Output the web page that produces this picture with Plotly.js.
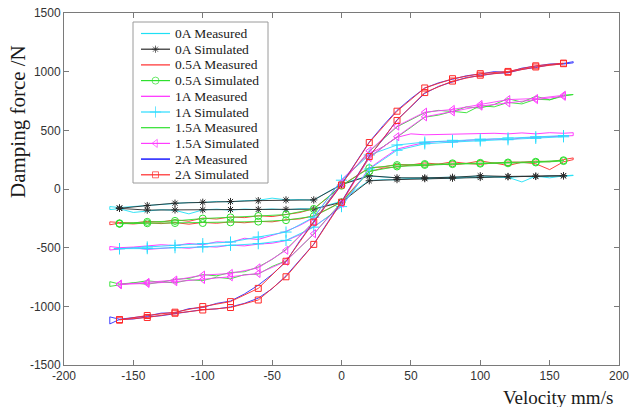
<!DOCTYPE html>
<html><head><meta charset="utf-8">
<script src="https://cdn.plot.ly/plotly-3.0.1.min.js"></script>
<style>html,body{margin:0;padding:0;background:#fff}#chart{width:632px;height:407px}</style>
</head><body><div id="chart"></div>
<script>
// ---------------- data ----------------
const simVelocity = [-160,-140,-120,-100,-80,-60,-40,-20,0,20,40,60,80,100,120,140,160];
const measVelocity = [-167,-160,-150,-140,-130,-120,-110,-100,-90,-80,-70,-60,-50,-40,-30,-20,-10,0,10,20,30,40,50,60,70,80,90,100,110,120,130,140,150,160,167];

// simulated branches (lower = increasing velocity, upper = decreasing velocity)
const sim0A_lower  = [-165,-180,-178,-177,-175,-174,-174,-172,-113,70,80,88,92,98,104,107,112];
const sim0A_upper  = [-161,-141,-121,-113,-107,-99,-93,-93,37,113,95,95,100,113,107,110,113];
const sim05A_lower = [-296,-292,-290,-290,-284,-278,-266,-232,-113,150,192,205,212,216,219,226,238];
const sim05A_upper = [-292,-280,-272,-252,-242,-230,-218,-170,28,178,204,213,219,223,226,232,245];
const sim1A_lower  = [-508,-508,-500,-494,-480,-466,-438,-325,-150,170,330,385,400,410,420,432,445];
const sim1A_upper  = [-508,-494,-480,-466,-452,-409,-367,-240,75,290,375,400,415,425,435,445,455];
const sim15A_lower = [-813,-805,-790,-771,-748,-720,-616,-381,-120,268,446,615,658,706,734,762,790];
const sim15A_upper = [-813,-796,-776,-734,-720,-672,-522,-282,50,325,536,655,678,720,762,771,799];
const sim2A_lower  = [-1115,-1095,-1059,-1031,-1010,-946,-748,-472,-113,277,584,822,920,970,995,1040,1068];
const sim2A_upper  = [-1115,-1078,-1050,-1002,-960,-847,-616,-282,34,396,663,861,940,983,1002,1050,1073];

// measured branches
const meas0A_lower  = [-175,-168,-200,-185,-176,-182,-212,-178,-172,-180,-171,-176,-170,-178,-168,-170,-140,-105,-10,72,80,78,90,86,92,88,99,95,103,98,108,102,112,108,115];
const meas0A_upper  = [-150,-158,-148,-140,-128,-124,-115,-116,-106,-110,-100,-96,-78,-92,-90,-95,-25,40,80,110,100,96,92,98,96,100,104,112,108,100,60,110,95,112,118];
const meas05A_lower = [-305,-290,-298,-288,-295,-286,-300,-285,-292,-280,-288,-276,-280,-262,-255,-228,-172,-108,25,148,178,188,205,198,212,205,218,210,222,200,228,215,165,232,250];
const meas05A_upper = [-280,-285,-290,-276,-282,-262,-275,-248,-256,-238,-244,-228,-235,-215,-200,-168,-75,30,105,182,188,210,205,222,212,232,218,240,220,230,228,238,232,250,265];
const meas1A_lower  = [-520,-512,-500,-515,-505,-498,-505,-490,-495,-478,-485,-470,-462,-440,-390,-320,-240,-145,15,175,260,340,370,395,405,400,415,418,425,420,435,440,445,450,455];
const meas1A_upper  = [-490,-500,-495,-488,-475,-482,-465,-475,-450,-455,-420,-430,-395,-360,-310,-245,-85,80,190,300,360,440,470,462,468,465,470,472,475,470,478,470,480,475,480];
const meas15A_lower = [-830,-815,-800,-812,-792,-800,-775,-780,-752,-765,-730,-725,-660,-612,-495,-385,-245,-115,80,265,360,440,525,612,630,662,650,710,700,738,725,765,760,792,800];
const meas15A_upper = [-790,-810,-800,-782,-795,-770,-762,-730,-740,-712,-705,-665,-600,-515,-400,-280,-110,55,185,320,425,530,590,650,670,660,700,690,720,770,740,790,760,800,805];
const meas2A_lower  = [-1150,-1112,-1108,-1090,-1080,-1062,-1048,-1028,-1022,-1005,-975,-930,-850,-740,-605,-470,-285,-108,88,280,425,590,700,815,875,915,950,965,985,990,1020,1035,1058,1065,1075];
const meas2A_upper  = [-1090,-1110,-1095,-1082,-1058,-1055,-1020,-1010,-975,-955,-895,-820,-728,-620,-440,-275,-120,40,220,400,540,670,770,860,905,935,965,980,1000,995,1030,1045,1065,1070,1085];

const seriesNames = ['0A Measured','0A Simulated','0.5A Measured','0.5A Simulated','1A Measured','1A Simulated','1.5A Measured','1.5A Simulated','2A Measured','2A Simulated'];
const xTickVals = [-200,-150,-100,-50,0,50,100,150,200];
const yTickVals = [-1500,-1000,-500,0,500,1000,1500];

// ---------------- styles ----------------
const styles = [
  {color:'#1ee0f5', symbol:null},
  {color:'#2a2a2a', symbol:'asterisk-open', size:6},
  {color:'#ff2a2a', symbol:null},
  {color:'#2ee02e', symbol:'circle-open', size:7},
  {color:'#ff2aff', symbol:null},
  {color:'#2adcff', symbol:'cross-thin-open', size:8},
  {color:'#2ee02e', symbol:null},
  {color:'#ff3cff', symbol:'triangle-left-open', size:7},
  {color:'#2a2aff', symbol:null},
  {color:'#ff2a2a', symbol:'square-open', size:6}
];
const branchData = [
  [measVelocity, meas0A_lower, meas0A_upper],
  [simVelocity, sim0A_lower, sim0A_upper],
  [measVelocity, meas05A_lower, meas05A_upper],
  [simVelocity, sim05A_lower, sim05A_upper],
  [measVelocity, meas1A_lower, meas1A_upper],
  [simVelocity, sim1A_lower, sim1A_upper],
  [measVelocity, meas15A_lower, meas15A_upper],
  [simVelocity, sim15A_lower, sim15A_upper],
  [measVelocity, meas2A_lower, meas2A_upper],
  [simVelocity, sim2A_lower, sim2A_upper]
];

function loop(v, lo, up){
  const x = v.concat(v.slice().reverse(), [v[0]]);
  const y = lo.concat(up.slice().reverse(), [lo[0]]);
  return {x, y};
}

const traces = branchData.map((b, i) => {
  const d = loop(b[0], b[1], b[2]);
  const s = styles[i];
  const t = {x:d.x, y:d.y, type:'scatter', name:seriesNames[i], showlegend:false,
    line:{color:s.color, width:0.9}, mode: s.symbol ? 'lines+markers' : 'lines'};
  if (s.symbol) t.marker = {symbol:s.symbol, size:s.size, color:s.color, line:{color:s.color, width:1}};
  return t;
});

// ---------------- manual legend (pixel overlay axes) ----------------
const W = 632, H = 407, L = 64, R = 619, T = 13, B = 365;
const legBox = {x0:133, x1:268, y0:22, y1:183};
const legTop = 33.5, legStep = 15.7, lineX0 = 141, lineX1 = 170, textX = 173;
const shapes = [{type:'rect', xref:'x2', yref:'y2', x0:legBox.x0, x1:legBox.x1, y0:legBox.y0, y1:legBox.y1,
  line:{color:'#9a9a9a', width:1}, fillcolor:'#ffffff', layer:'below'}];
const annotations = [];
const legMk = {x:[], y:[], symbol:[], size:[], color:[]};
seriesNames.forEach((n, i) => {
  const yy = legTop + i*legStep;
  const s = styles[i];
  shapes.push({type:'line', xref:'x2', yref:'y2', x0:lineX0, x1:lineX1, y0:yy, y1:yy,
    line:{color:s.color, width: i===8 ? 1.6 : 1.2}, layer:'below'});
  annotations.push({xref:'x2', yref:'y2', x:textX, y:yy, text:n, showarrow:false, xanchor:'left', yanchor:'middle',
    font:{family:'Liberation Serif, Times New Roman, serif', size:13.5, color:'#1a1a1a'}});
  if (s.symbol){ legMk.x.push((lineX0+lineX1)/2); legMk.y.push(yy); legMk.symbol.push(s.symbol); legMk.size.push(s.size); legMk.color.push(s.color); }
});
traces.push({x:legMk.x, y:legMk.y, xaxis:'x2', yaxis:'y2', type:'scatter', mode:'markers', showlegend:false, hoverinfo:'skip',
  marker:{symbol:legMk.symbol, size:legMk.size, color:legMk.color, line:{color:legMk.color, width:1}}});

// axis titles
const px2x = p => (p - L)/(R - L);
const py2y = p => (B - p)/(B - T);
annotations.push({xref:'paper', yref:'paper', x:px2x(18), y:py2y(122), text:'Damping force /N', textangle:-90,
  showarrow:false, xanchor:'center', yanchor:'middle', font:{family:'Liberation Serif, Times New Roman, serif', size:21, color:'#1a1a1a'}});
annotations.push({xref:'paper', yref:'paper', x:px2x(614), y:py2y(409), text:'Velocity mm/s',
  showarrow:false, xanchor:'right', yanchor:'bottom', borderpad:0, font:{family:'Liberation Serif, Times New Roman, serif', size:19, color:'#1a1a1a'}});

const axisCommon = {showline:true, linecolor:'#7a7a7a', linewidth:1, mirror:'ticks', ticks:'inside', ticklen:5,
  tickcolor:'#7a7a7a', tickwidth:1, showgrid:false, zeroline:false,
  tickfont:{family:'Liberation Sans, Arial, sans-serif', size:12, color:'#333333'}};

const layout = {
  width:W, height:H, margin:{l:L, r:W-R, t:T, b:H-B, pad:0},
  paper_bgcolor:'#ffffff', plot_bgcolor:'#ffffff', showlegend:false,
  xaxis:Object.assign({}, axisCommon, {range:[-200,200], tickvals:xTickVals, ticktext:xTickVals.map(String)}),
  yaxis:Object.assign({}, axisCommon, {range:[-1500,1500], tickvals:yTickVals, ticktext:yTickVals.map(String)}),
  xaxis2:{overlaying:'x', anchor:'y2', range:[L,R], visible:false, fixedrange:true},
  yaxis2:{overlaying:'y', anchor:'x2', range:[B,T], visible:false, fixedrange:true},
  shapes, annotations
};

Plotly.newPlot('chart', traces, layout, {staticPlot:true, displayModeBar:false});
</script></body></html>
